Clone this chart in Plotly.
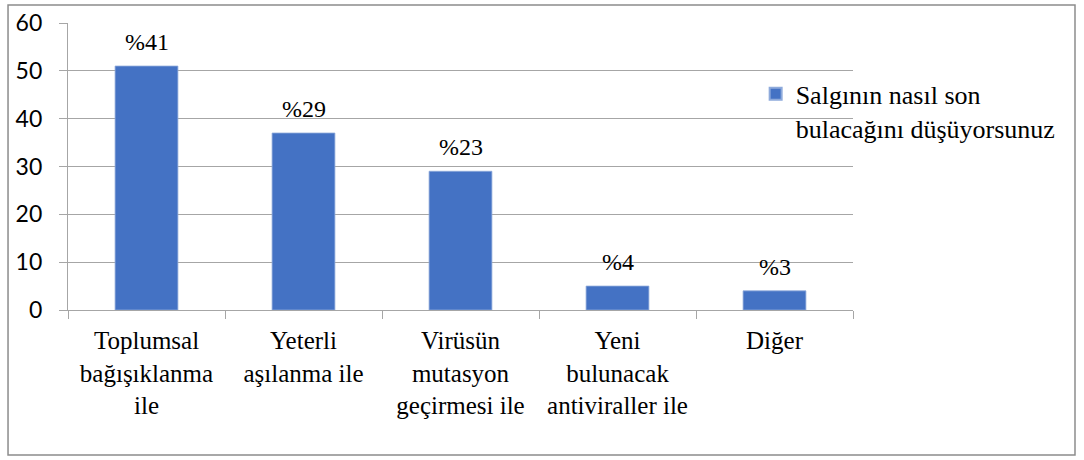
import plotly.graph_objects as go

categories = ["Toplumsal<br>bağışıklanma<br>ile", "Yeterli<br>aşılanma ile",
              "Virüsün<br>mutasyon<br>geçirmesi ile", "Yeni<br>bulunacak<br>antiviraller ile", "Diğer"]
values = [51, 37, 29, 5, 4]
pct_labels = ["%41", "%29", "%23", "%4", "%3"]
series_name = "Salgının nasıl son<br>bulacağını düşüyorsunuz"

serif = "Liberation Serif"
sans = "Lato"
grid = "#a6a6a6"

fig = go.Figure()
fig.add_trace(go.Bar(x=categories, y=values, name=series_name,
                     marker=dict(color="#4472C4", line=dict(color="#8eaadb", width=0.8))))

for c, v, t in zip(categories, values, pct_labels):
    fig.add_annotation(x=c, y=v, text=t, showarrow=False, yanchor="bottom", yshift=9,
                       font=dict(family=serif, size=24, color="#000000"))

fig.add_shape(type="rect", xref="paper", yref="paper", x0=-0.0764, x1=1.2828, y0=-0.505, y1=1.0627,
              line=dict(color="#8c8c8c", width=1.5), layer="below")

fig.update_layout(
    width=1084, height=460,
    margin=dict(l=68, r=231, t=23, b=150, autoexpand=False),
    paper_bgcolor="white", plot_bgcolor="white",
    bargap=0.6,
    showlegend=True,
    font=dict(family=serif),
    legend=dict(x=0.876, y=0.835, xanchor="left", yanchor="top", valign="top",
                font=dict(family=serif, size=26, color="#000000"),
                bgcolor="rgba(0,0,0,0)", itemsizing="constant"),
    xaxis=dict(automargin=False, showline=True, linecolor=grid, linewidth=1.3, ticks="outside",
               tickson="boundaries", ticklen=8, tickcolor=grid, ticklabelstandoff=8,
               tickfont=dict(family=serif, size=25, color="#000000"), showgrid=False),
    yaxis=dict(automargin=False, range=[0, 60], dtick=10, showgrid=True, gridcolor=grid, gridwidth=1.3,
               showline=True, linecolor=grid, linewidth=1.3, ticks="outside", ticklen=8, tickcolor=grid,
               tickfont=dict(family=sans, size=23, color="#000000"), ticklabelstandoff=12,
               zeroline=False),
)

fig.write_html("out.html", config={"displayModeBar": False},
               post_script="document.body.style.margin='0';document.body.style.overflow='hidden';")
